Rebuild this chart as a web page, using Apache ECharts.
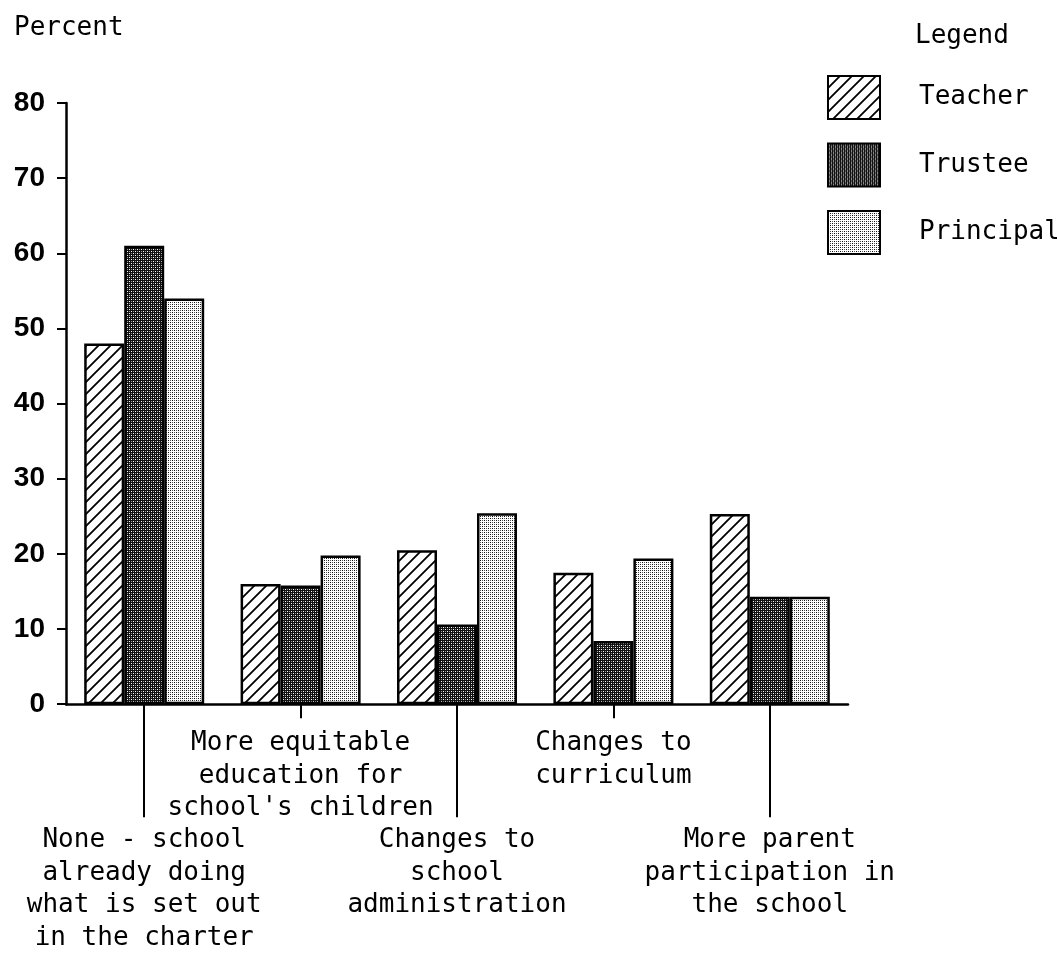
<!DOCTYPE html>
<html>
<head>
<meta charset="utf-8">
<script src="https://cdn.jsdelivr.net/npm/echarts@6/dist/echarts.min.js"></script>
<style>
html,body{margin:0;padding:0;background:#fff;}
#chart{width:1057px;height:954px;}
</style>
</head>
<body>
<div id="chart"></div>
<script>
const categories = [
  'None - school\nalready doing\nwhat is set out\nin the charter',
  'More equitable\neducation for\nschool\'s children',
  'Changes to\nschool\nadministration',
  'Changes to\ncurriculum',
  'More parent\nparticipation in\nthe school'
];
const seriesNames = ['Teacher', 'Trustee', 'Principal'];
const teacher = [48, 16, 20.5, 17.5, 25.3];
const trustee = [61, 15.8, 10.6, 8.4, 14.3];
const principal = [54, 19.8, 25.4, 19.4, 14.3];
const yMin = 0, yMax = 80, yStep = 10;

function hatchPattern() {
  const s = 12, c = document.createElement('canvas');
  c.width = s; c.height = s;
  const g = c.getContext('2d');
  g.fillStyle = '#fff'; g.fillRect(0, 0, s, s);
  g.strokeStyle = '#000'; g.lineWidth = 1.8;
  g.beginPath();
  g.moveTo(-2, s + 2); g.lineTo(s + 2, -2);
  g.moveTo(-2, 2); g.lineTo(2, -2);
  g.moveTo(s - 2, s + 2); g.lineTo(s + 2, s - 2);
  g.stroke();
  return c;
}
function darkDots() {
  const c = document.createElement('canvas');
  c.width = 4; c.height = 4;
  const g = c.getContext('2d');
  g.fillStyle = '#111'; g.fillRect(0, 0, 4, 4);
  g.fillStyle = '#fff'; g.fillRect(1, 1, 1, 1); g.fillRect(3, 3, 1, 1);
  g.fillStyle = '#999'; g.fillRect(1, 3, 1, 1); g.fillRect(3, 1, 1, 1);
  return c;
}
function lightDots() {
  const c = document.createElement('canvas');
  c.width = 4; c.height = 4;
  const g = c.getContext('2d');
  g.fillStyle = '#fff'; g.fillRect(0, 0, 4, 4);
  g.fillStyle = '#111'; g.fillRect(0, 0, 1, 1); g.fillRect(2, 2, 1, 1);
  g.fillStyle = '#555'; g.fillRect(0, 2, 1, 1); g.fillRect(2, 0, 1, 1);
  return c;
}
const fills = [
  { image: hatchPattern(), repeat: 'repeat' },
  { image: darkDots(), repeat: 'repeat' },
  { image: lightDots(), repeat: 'repeat' }
];
const dataSets = [teacher, trustee, principal];

const mono = '"DejaVu Sans Mono", monospace';
const chart = echarts.init(document.getElementById('chart'), null, { renderer: 'canvas' });
chart.setOption({
  animation: false,
  backgroundColor: '#fff',
  title: [
    { text: 'Percent', left: 14, top: 15, padding: 0, textStyle: { fontFamily: mono, fontSize: 26, fontWeight: 'normal', color: '#000' } },
    { text: 'Legend', left: 915, top: 23, padding: 0, textStyle: { fontFamily: mono, fontSize: 26, fontWeight: 'normal', color: '#000' } }
  ],
  legend: {
    orient: 'vertical', left: 827, top: 75, padding: 0,
    itemWidth: 52, itemHeight: 43, itemGap: 22.5,
    icon: 'rect',
    data: seriesNames,
    textStyle: { fontFamily: mono, fontSize: 26, color: '#000', padding: [11, 0, 0, 34] }
  },
  grid: { left: 66, right: 209, top: 103, bottom: 241, containLabel: false },
  xAxis: [
    {
      type: 'category', data: categories, position: 'bottom',
      axisLine: { show: true, lineStyle: { color: '#000', width: 2.5 } },
      axisTick: { show: true, alignWithLabel: true, length: 14, interval: (i) => i % 2 === 1, lineStyle: { color: '#000', width: 2 } },
      axisLabel: {
        interval: 0, margin: 23, color: '#000', fontFamily: mono, fontSize: 26, lineHeight: 32.4,
        formatter: (v, i) => (i % 2 === 0 ? '\n\n\n' + v : v)
      },
      splitLine: { show: false }
    },
    {
      type: 'category', data: categories, position: 'bottom',
      axisLine: { show: false },
      axisTick: { show: true, alignWithLabel: true, length: 113, interval: (i) => i % 2 === 0, lineStyle: { color: '#000', width: 2 } },
      axisLabel: { show: false },
      splitLine: { show: false }
    }
  ],
  yAxis: {
    type: 'value', min: yMin, max: yMax, interval: yStep,
    axisLine: { show: true, lineStyle: { color: '#000', width: 2.5 } },
    axisTick: { show: true, length: 9, lineStyle: { color: '#000', width: 2 } },
    axisLabel: { margin: 21, color: '#000', fontFamily: '"Liberation Sans", Arial, sans-serif', fontWeight: 'bold', fontSize: 28 },
    splitLine: { show: false }
  },
  series: seriesNames.map((name, k) => ({
    name, type: 'bar', xAxisIndex: 0, data: dataSets[k],
    barWidth: 40, barGap: '0%',
    itemStyle: { color: fills[k], borderColor: '#000', borderWidth: 2.5 }
  }))
});
</script>
</body>
</html>
